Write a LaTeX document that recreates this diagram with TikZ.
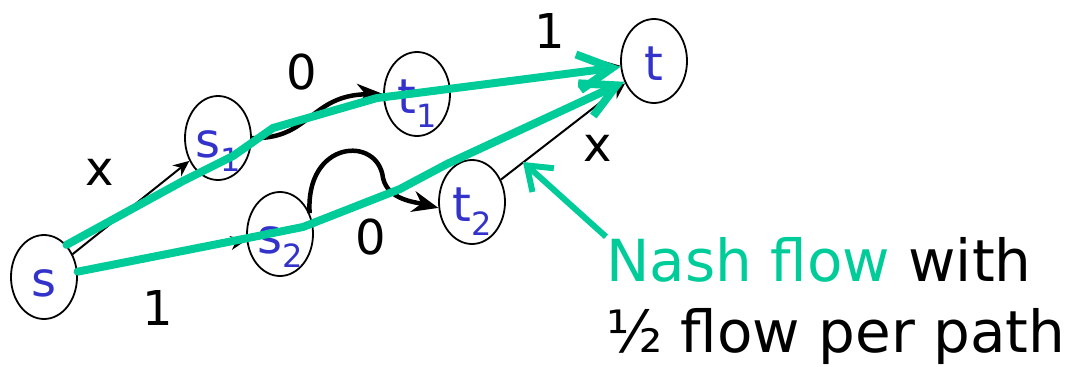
\documentclass[tikz,border=0pt]{standalone}
\usepackage{fontspec}
\setmainfont{DejaVu Sans}
\usepackage{xcolor}
\usepackage{tikz}
\usetikzlibrary{arrows.meta, shapes.geometric}
\definecolor{nash}{RGB}{0,204,153}
\definecolor{vtx}{RGB}{51,51,204}
\newcommand{\lblfont}{\fontsize{48}{56}\selectfont}
\newcommand{\lowidx}[1]{\raisebox{-14pt}{\fontsize{32}{32}\selectfont #1}}

\begin{document}
\begin{tikzpicture}[x=1pt, y=-1pt,
      vertex/.style = {ellipse, draw, line width=1.8pt, inner sep=0pt,
                       minimum width=66pt, minimum height=84pt,
                       text height=38pt, text depth=0pt,
                       text=vtx, font=\lblfont},
      edge/.style   = {-{Stealth[length=16pt, width=14pt]}, line width=2pt},
      bent/.style   = {-{Stealth[length=26pt, width=21pt]}, line width=4.5pt},
      cost/.style   = {inner sep=0pt, font=\lblfont},
      flow/.style   = {-{Straight Barb[length=34pt, width=36pt]}, draw=nash,
                       line width=8pt, line cap=round, line join=round},
      pointer/.style= {-{Straight Barb[length=22pt, width=32pt]}, draw=nash,
                       line width=6pt},
      note/.style   = {inner sep=0pt, anchor=base west,
                       font=\fontsize{58}{70}\selectfont}
    ]
    \useasboundingbox (0,0) rectangle (1077,367);

    \node[vertex] (s)  at (44,277)  {s};
    \node[vertex] (s1) at (218,138) {s\lowidx{1}};
    \node[vertex] (s2) at (280,234) {s\lowidx{2}};
    \node[vertex] (t1) at (417,94)  {t\lowidx{1}};
    \node[vertex] (t2) at (472,202) {t\lowidx{2}};
    \node[vertex] (t)  at (654,61)  {t};

    \node[cost] (cx1) at (100,172) {x};
    \node[cost] (c01) at (302,72)  {0};
    \node[cost] (c11) at (550,31)  {1};
    \node[cost] (cx2) at (598,148) {x};
    \node[cost] (c02) at (371,237) {0};
    \node[cost] (c12) at (158,308) {1};

    \draw[edge] (s)  -- (s1);
    \draw[edge] (s)  -- (s2);
    \draw[edge] (t1) -- (t);
    \draw[edge] (t2) -- (t);
    \draw[bent] (s1.east) .. controls (310,140) and (310,95) .. (t1.west);
    \draw[bent] (s2.35) .. controls (305,140) and (378,135) .. (383,178)
                        .. controls (388,200) and (415,202) .. (t2.190);

    % the two paths of the Nash flow
    \draw[flow] (s.55) -- (183,181) -- (233,156) -- (273,128) -- (377,98)
                -- (417,93) -- (t.190);
    \draw[flow] (s.9) -- (233,241) -- (303,227) -- (400,189) -- (447,164)
                -- (t.215);

    \node[note] (nashtxt) at (606,281) {\textcolor{nash}{Nash flow} with};
    \node[note] (halftxt) at (606,352) {½ flow per path};
    \coordinate (flowtip) at (523,162);
    \draw[pointer] (nashtxt.north west) -- (flowtip);
  \end{tikzpicture}
\end{document}
